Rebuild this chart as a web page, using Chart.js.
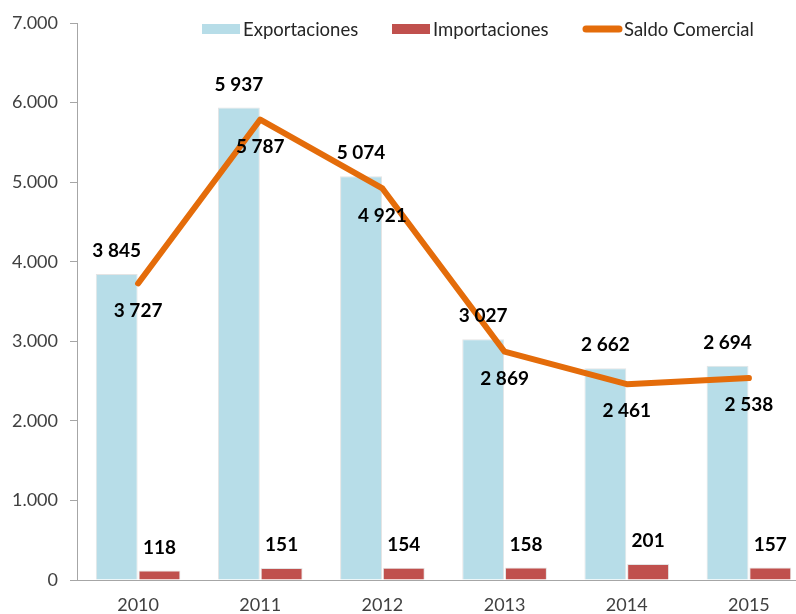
<!DOCTYPE html>
<html>
<head>
<meta charset="utf-8">
<script src="https://cdn.jsdelivr.net/npm/chart.js@4"></script>
<style>
    html, body { margin: 0; padding: 0; overflow: hidden; background: #fff; }
    canvas { display: block; }
</style>
</head>
<body>
<canvas id="myChart" width="812" height="614"></canvas>
<script>
const years = ["2010", "2011", "2012", "2013", "2014", "2015"];
const exportaciones = [3845, 5937, 5074, 3027, 2662, 2694];
const importaciones = [118, 151, 154, 158, 201, 157];
const saldoComercial = [3727, 5787, 4921, 2869, 2461, 2538];
const yTicks = [0, 1000, 2000, 3000, 4000, 5000, 6000, 7000];
const yTickLabels = ["0", "1.000", "2.000", "3.000", "4.000", "5.000", "6.000", "7.000"];

const FONT = "Lato, 'Open Sans', sans-serif";
const AXIS_GREY = "#a6a6a6";
const TEXT_GREY = "#404040";

// "3845" -> "3 845"
const fmt = (v) => String(v).replace(/\B(?=(\d{3})+(?!\d))/g, " ");

// value labels above bars, below the line points
const valueLabels = {
    id: "valueLabels",
    afterDatasetsDraw(chart) {
        const ctx = chart.ctx;
        ctx.save();
        ctx.font = "bold 19px " + FONT;
        ctx.fillStyle = "#000";
        ctx.textAlign = "center";
        ctx.textBaseline = "middle";
        chart.data.datasets.forEach((ds, i) => {
            const meta = chart.getDatasetMeta(i);
            meta.data.forEach((el, j) => {
                const dy = ds.type === "line" ? 27 : -23;
                ctx.fillText(fmt(ds.data[j]), el.x, el.y + dy);
            });
        });
        ctx.restore();
    }
};

// legend drawn by hand so it can sit inside the plot area like the original
const legendX = [202, 392, 583];
const customLegend = {
    id: "customLegend",
    afterDraw(chart) {
        const ctx = chart.ctx;
        const y = 29;
        ctx.save();
        ctx.font = "18.5px " + FONT;
        ctx.textBaseline = "middle";
        ctx.textAlign = "left";
        chart.data.datasets.forEach((ds, i) => {
            const x = legendX[i];
            if (ds.type === "line") {
                ctx.strokeStyle = ds.borderColor;
                ctx.lineWidth = 7;
                ctx.lineCap = "round";
                ctx.beginPath();
                ctx.moveTo(x + 3, y);
                ctx.lineTo(x + 36, y);
                ctx.stroke();
            } else {
                ctx.fillStyle = ds.backgroundColor;
                ctx.fillRect(x, y - 5, 38, 10);
            }
            ctx.fillStyle = "#262626";
            ctx.fillText(ds.label, x + 41, y + 1);
        });
        ctx.restore();
    }
};

const ctx = document.getElementById("myChart");

const myChart = new Chart(ctx, {
    data: {
        labels: years,
        datasets: [
            {
                type: "bar",
                label: "Exportaciones",
                data: exportaciones,
                backgroundColor: "#b7dde8",
                borderColor: "#e4e4e4",
                borderWidth: 1,
                categoryPercentage: 0.7,
                barPercentage: 0.98,
                order: 1
            },
            {
                type: "bar",
                label: "Importaciones",
                data: importaciones,
                backgroundColor: "#c0504d",
                borderColor: "#e4e4e4",
                borderWidth: 1,
                categoryPercentage: 0.7,
                barPercentage: 0.98,
                order: 1
            },
            {
                type: "line",
                label: "Saldo Comercial",
                data: saldoComercial,
                borderColor: "#e46c0a",
                backgroundColor: "#e46c0a",
                borderWidth: 6,
                borderCapStyle: "round",
                borderJoinStyle: "round",
                pointRadius: 0,
                tension: 0,
                order: 0
            }
        ]
    },
    options: {
        responsive: false,
        animation: false,
        layout: { padding: { top: 23, right: 2, left: 0, bottom: 0 } },
        plugins: {
            legend: { display: false },
            tooltip: { enabled: false }
        },
        scales: {
            x: {
                grid: { display: false },
                border: { color: AXIS_GREY },
                ticks: { color: TEXT_GREY, font: { family: FONT, size: 18 }, padding: 6 },
                afterFit: (s) => { s.height = 34; }
            },
            y: {
                min: 0,
                max: 7000,
                afterBuildTicks: (s) => { s.ticks = yTicks.map(v => ({ value: v })); },
                ticks: {
                    callback: (v, i) => yTickLabels[i],
                    color: TEXT_GREY,
                    font: { family: FONT, size: 18 },
                    padding: 12
                },
                grid: { drawOnChartArea: false, tickLength: 7, color: AXIS_GREY },
                border: { color: AXIS_GREY },
                afterFit: (s) => { s.width = 77; }
            }
        }
    },
    plugins: [valueLabels, customLegend]
});
</script>
</body>
</html>
